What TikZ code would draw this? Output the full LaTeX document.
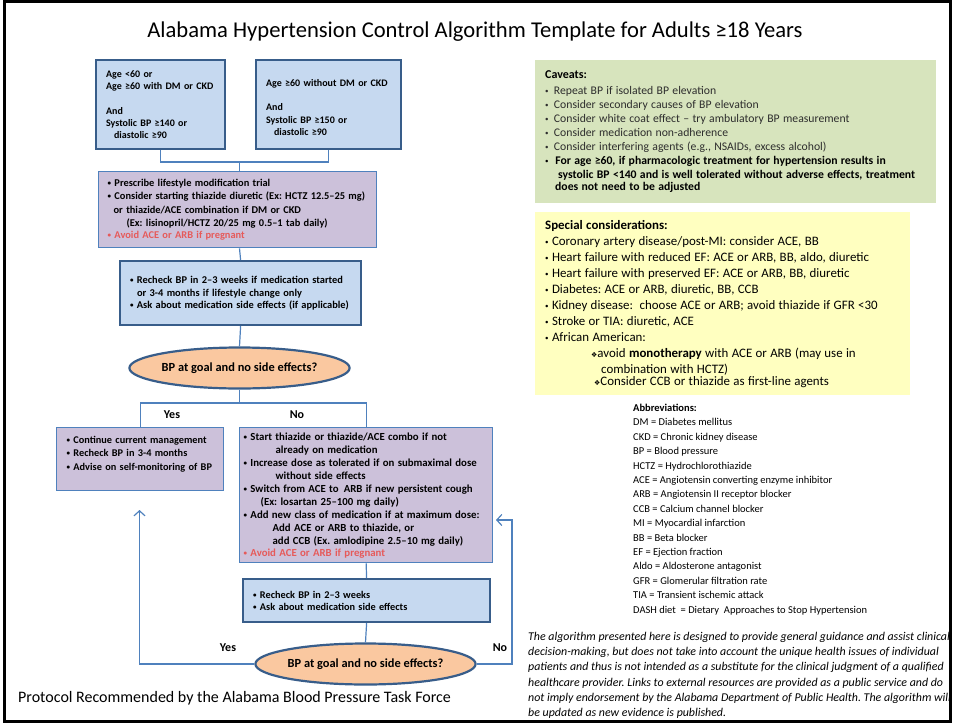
\documentclass[tikz,border=0pt]{standalone}
\usepackage{fontspec}
\setmainfont{Carlito}
\newfontfamily\symfont{DejaVu Sans}
\usetikzlibrary{shapes.geometric,arrows.meta}

\definecolor{boxblue}{RGB}{198,217,240}
\definecolor{edgeblue}{RGB}{56,93,138}
\definecolor{linkblue}{RGB}{79,129,189}
\definecolor{lavender}{RGB}{204,193,218}
\definecolor{peach}{RGB}{250,200,160}
\definecolor{cavgreen}{RGB}{215,228,189}
\definecolor{noteyellow}{RGB}{255,255,192}
\definecolor{warnred}{RGB}{230,90,90}
\definecolor{greytext}{RGB}{45,45,45}

\newcommand{\bul}{{\fontsize{7}{7}\selectfont\raisebox{1pt}{•}}\ }
\newcommand{\fsz}[2]{\fontsize{#1}{#2}\selectfont}
\frenchspacing

\begin{document}
\frenchspacing
\begin{tikzpicture}[x=1pt, y=-1pt,
    stepbox/.style={rectangle, draw=edgeblue, line width=2.2pt, fill=boxblue, anchor=north west,
        align=left, inner xsep=10pt, inner ysep=0pt, font=\bfseries},
    actbox/.style={stepbox, draw=linkblue, line width=1.3pt, fill=lavender},
    decision/.style={ellipse, draw=edgeblue, line width=2.2pt, fill=peach, inner sep=0pt,
        minimum width=187pt, minimum height=41pt, font=\bfseries\fsz{12.4}{14}},
    notebox/.style={rectangle, anchor=north west, align=left, inner xsep=10pt, inner ysep=0pt},
    answer/.style={font=\bfseries\fsz{12}{14}},
    link/.style={draw=linkblue, line width=1.2pt},
    arrow/.style={link, ->, >={Straight Barb[length=5pt,width=11pt]}}
]
\useasboundingbox (0,0) rectangle (954,723);
\draw[line width=3pt] (4,1.5) rectangle (950,721);

% title and footer
\node (title) at (475,32) {\fsz{22.6}{26}Alabama Hypertension Control Algorithm Template for Adults ≥18 Years};
\node[anchor=west, inner sep=0pt] (footer) at (18,698) {\fsz{16}{19}Protocol Recommended by the Alabama Blood Pressure Task Force};

% entry criteria
\node[stepbox, text width=109pt, minimum height=89pt] (ageA) at (95,59) {\fsz{10}{12.3}Age <60 or\\Age ≥60 with DM or CKD\\[12.3pt]And\\Systolic BP ≥140 or\\\hspace*{8pt}diastolic ≥90};
\node[stepbox, text width=125pt, minimum height=89pt] (ageB) at (255,59) {\fsz{10}{12.3}\mbox{}\\Age ≥60 without DM or CKD\\[12.3pt]And\\Systolic BP ≥150 or\\\hspace*{8pt}diastolic ≥90};

% first treatment
\node[actbox, inner xsep=6pt, text width=266pt, minimum height=76pt] (start) at (98,171) {\fsz{10.4}{13.2}\hspace*{3pt}\bul Prescribe lifestyle modification trial\\
\hspace*{3pt}\bul Consider starting thiazide diuretic (Ex: HCTZ 12.5–25 mg)\\
\hspace*{9pt}or thiazide/ACE combination if DM or CKD\\
\hspace*{22pt}(Ex: lisinopril/HCTZ 20/25 mg 0.5–1 tab daily)\\
\hspace*{3pt}{\color{warnred}\bul Avoid ACE or ARB if pregnant}};

\node[stepbox, text width=221pt, minimum height=64pt] (recheck1) at (119,260) {\fsz{10.4}{13}\bul Recheck BP in 2–3 weeks if medication started\\
\hspace*{7pt}or 3-4 months if lifestyle change only\\
\bul Ask about medication side effects (if applicable)};

\node[decision] (goal1) at (239.5,368) {BP at goal and no side effects?};

% yes / no branch
\node[actbox, text width=147pt, minimum height=63pt] (maintain) at (56,427) {\fsz{10.3}{13.4}\bul Continue current management\\
\bul Recheck BP in 3-4 months\\
\bul Advise on self-monitoring of BP\\\mbox{}};

\node[actbox, inner xsep=4pt, text width=245pt, minimum height=135pt] (adjust) at (239,427) {\fsz{10.8}{13}\bul Start thiazide or thiazide/ACE combo if not\\
\hspace*{32pt}already on medication\\
\bul Increase dose as tolerated if on submaximal dose\\
\hspace*{32pt}without side effects\\
\bul Switch from ACE to\, ARB if new persistent cough\\
\hspace*{17pt}(Ex: losartan 25–100 mg daily)\\
\bul Add new class of medication if at maximum dose:\\
\hspace*{29pt}Add ACE or ARB to thiazide, or\\
\hspace*{29pt}add CCB (Ex. amlodipine 2.5–10 mg daily)\\
{\color{warnred}\bul Avoid ACE or ARB if pregnant}};

\node[stepbox, text width=227pt, minimum height=43pt] (recheck2) at (242,578) {\fsz{10.3}{13.5}\bul Recheck BP in 2–3 weeks\\
\bul Ask about medication side effects};

\node[decision] (goal2) at (365.5,664) {BP at goal and no side effects?};

\node[answer] (yes1) at (172,415) {Yes};
\node[answer] (no1) at (297,415) {No};
\node[answer] (yes2) at (228,648) {Yes};
\node[answer] (no2) at (500,648) {No};

% connectors
\coordinate (merge) at (239.5,162);
\coordinate (split) at (239.5,403);
\coordinate (yestip) at (139.5,510);
\coordinate (noturn) at (512,520);
\coordinate (notip) at (496,520);
\draw[link] (ageA.south) |- (merge) -| (ageB.south);
\draw[link] (merge) -- (merge |- start.north);
\draw[link] (start.south -| merge) -- (recheck1.south |- recheck1.north);
\draw[link] (recheck1.south) -- (goal1.north);
\draw[link] (goal1.south) -- (split);
\draw[link] (maintain.north) |- (split) -| (adjust.north);
\draw[link] (adjust.south) -- (recheck2.north);
\draw[link] (recheck2.south) -- (goal2.north);
\draw[arrow] (goal2.west) -| (yestip);
\draw[arrow] (goal2.east) -| (noturn) -- (notip);

% caveats
\node[notebox, fill=cavgreen, text width=381pt, minimum height=143pt] (caveats) at (535,60) {{\bfseries\fsz{12}{14}Caveats:}\\[2pt]
\color{greytext}\fsz{11.7}{14}%
\bul\,Repeat BP if isolated BP elevation\\
\bul\,Consider secondary causes of BP elevation\\
\bul\,Consider white coat effect – try ambulatory BP measurement\\
\bul\,Consider medication non-adherence\\
\bul\,Consider interfering agents (e.g., NSAIDs, excess alcohol)\\
\color{black}\bul\ \textbf{For age ≥60, if pharmacologic treatment for hypertension results in}\\
\hspace*{13pt}\textbf{systolic BP <140 and is well tolerated without adverse effects, treatment}\\
\hspace*{10pt}\textbf{does not need to be adjusted}};

% special considerations
\node[notebox, fill=noteyellow, text width=355pt, minimum height=183pt] (special) at (535,212) {\fsz{12.9}{16}%
{\bfseries Special considerations:}\\
\bul Coronary artery disease/post-MI: consider ACE, BB\\
\bul Heart failure with reduced EF: ACE or ARB, BB, aldo, diuretic\\
\bul Heart failure with preserved EF: ACE or ARB, BB, diuretic\\
\bul Diabetes: ACE or ARB, diuretic, BB, CCB\\
\bul Kidney disease:\ \ choose ACE or ARB; avoid thiazide if GFR <30\\
\bul Stroke or TIA: diuretic, ACE\\
\bul African American:\\
\hspace*{46pt}{\symfont\fsz{7}{8}❖}avoid \textbf{monotherapy} with ACE or ARB (may use in\\
\hspace*{56pt}combination with HCTZ)\\
\hspace*{49pt}{\symfont\fsz{7}{8}❖}Consider CCB or thiazide as first-line agents};

% abbreviations
\node[notebox, inner sep=0pt, font=\fsz{10.5}{14.4}] (abbrev) at (633,404) {\textbf{Abbreviations:}\\
DM = Diabetes mellitus\\
CKD = Chronic kidney disease\\
BP = Blood pressure\\
HCTZ = Hydrochlorothiazide\\
ACE = Angiotensin converting enzyme inhibitor\\
ARB = Angiotensin II receptor blocker\\
CCB = Calcium channel blocker\\
MI = Myocardial infarction\\
BB = Beta blocker\\
EF = Ejection fraction\\
Aldo = Aldosterone antagonist\\
GFR = Glomerular filtration rate\\
TIA = Transient ischemic attack\\
DASH diet\ \ = Dietary\ \ Approaches to Stop Hypertension};

% disclaimer
\node[notebox, inner sep=0pt, font=\itshape\fsz{11.9}{15.2}] (disclaimer) at (528,632) {The algorithm presented here is designed to provide general guidance and assist clinical\\
decision-making, but does not take into account the unique health issues of individual\\
patients and thus is not intended as a substitute for the clinical judgment of a qualified\\
healthcare provider. Links to external resources are provided as a public service and do\\
not imply endorsement by the Alabama Department of Public Health. The algorithm will\\
be updated as new evidence is published.};

\end{tikzpicture}
\end{document}
